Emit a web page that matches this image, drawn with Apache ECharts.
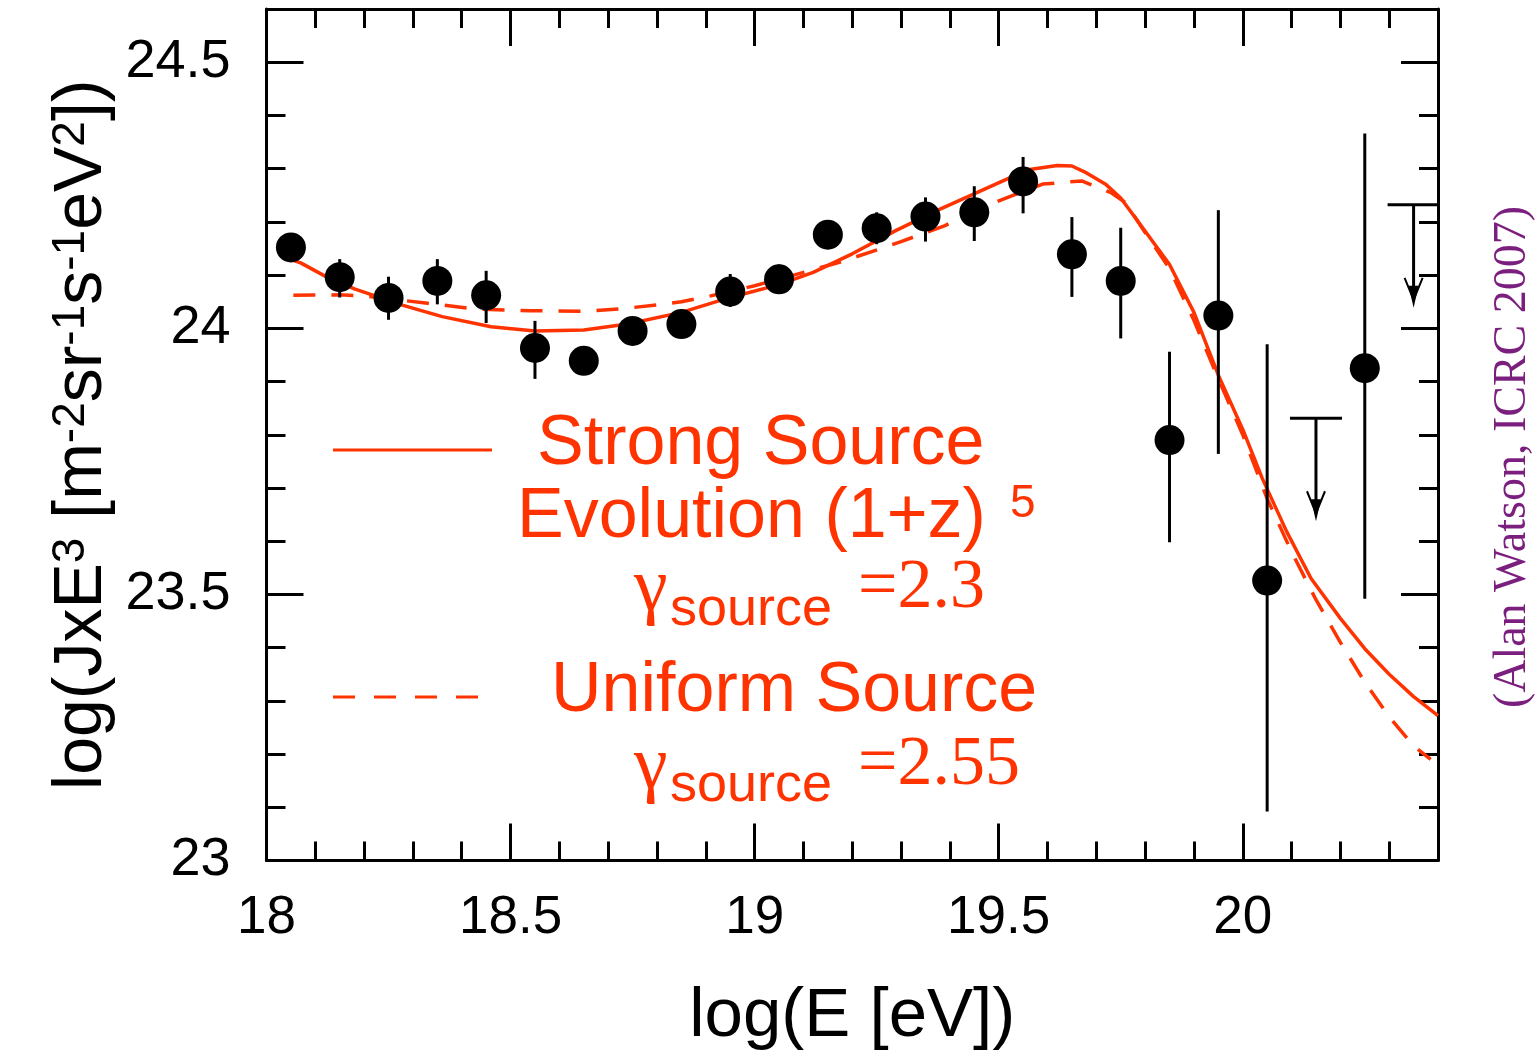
<!DOCTYPE html>
<html><head><meta charset="utf-8">
<script src="https://cdn.jsdelivr.net/npm/echarts@6/dist/echarts.min.js"></script>
<style>html,body{margin:0;padding:0;background:#fff}#c{width:1537px;height:1060px}</style>
</head><body><div id="c"></div>
<script>
// ---- data ----
const xTickLabels = ['18', '18.5', '19', '19.5', '20'];
const yTickLabels = ['23', '23.5', '24', '24.5'];

const dataX  = [18.05, 18.15, 18.25, 18.35, 18.45, 18.55, 18.65, 18.75, 18.85, 18.95, 19.05, 19.15, 19.25, 19.35, 19.45, 19.55, 19.65, 19.75, 19.85, 19.95, 20.05, 20.25];
const dataY  = [24.152, 24.096, 24.057, 24.089, 24.062, 23.963, 23.939, 23.995, 24.008, 24.069, 24.092, 24.176, 24.188, 24.21, 24.218, 24.276, 24.139, 24.089, 23.79, 24.024, 23.526, 23.925];
const errHi  = [24.17, 24.13, 24.097, 24.13, 24.108, 24.014, 23.959, 24.015, 24.028, 24.102, 24.12, 24.196, 24.218, 24.246, 24.267, 24.322, 24.209, 24.189, 23.956, 24.222, 23.97, 24.366];
const errLo  = [24.135, 24.058, 24.016, 24.045, 24.01, 23.905, 23.919, 23.975, 23.988, 24.04, 24.065, 24.156, 24.158, 24.163, 24.164, 24.216, 24.059, 23.981, 23.598, 23.764, 23.092, 23.492];

const limitX = [20.15, 20.35];
const limitY = [23.831, 24.232];

const strongX = [18.035, 18.07, 18.12, 18.18, 18.28, 18.36, 18.46, 18.55, 18.65, 18.74, 18.85, 18.95, 19.05, 19.12, 19.2, 19.29, 19.38, 19.47, 19.56, 19.62, 19.65, 19.68, 19.72, 19.75, 19.79, 19.85, 19.9, 19.95, 20.0, 20.04, 20.09, 20.14, 20.2, 20.25, 20.3, 20.35, 20.4];
const strongY = [24.134, 24.123, 24.098, 24.074, 24.043, 24.022, 24.003, 23.995, 23.997, 24.008, 24.03, 24.058, 24.082, 24.105, 24.14, 24.184, 24.224, 24.261, 24.298, 24.306, 24.305, 24.292, 24.27, 24.245, 24.195, 24.12, 24.03, 23.912, 23.81, 23.718, 23.618, 23.53, 23.455, 23.398, 23.35, 23.308, 23.272];

const uniformX = [18.055, 18.15, 18.2, 18.33, 18.43, 18.54, 18.65, 18.73, 18.8, 18.85, 18.91, 19.0, 19.08, 19.17, 19.24, 19.3, 19.39, 19.49, 19.59, 19.67, 19.73, 19.76, 19.8, 19.85, 19.9, 19.95, 20.0, 20.05, 20.1, 20.15, 20.2, 20.25, 20.3, 20.35, 20.385];
const uniformY = [24.062, 24.063, 24.061, 24.047, 24.036, 24.033, 24.032, 24.037, 24.044, 24.05, 24.061, 24.08, 24.1, 24.123, 24.144, 24.163, 24.193, 24.236, 24.271, 24.277, 24.255, 24.236, 24.18, 24.112, 24.015, 23.905, 23.8, 23.68, 23.58, 23.49, 23.41, 23.335, 23.27, 23.215, 23.19];

// ---- styles ----
const RED = '#ff3300';
const SANS = '"Liberation Sans", Arial, Helvetica, sans-serif';
const SERIF = '"Liberation Serif", "Times New Roman", serif';

const pts = dataX.map((x, i) => [x, dataY[i]]);
const errs = dataX.map((x, i) => [x, errLo[i], errHi[i]]);
const lims = limitX.map((x, i) => [x, limitY[i]]);
const strong = strongX.map((x, i) => [x, strongY[i]]);
const uniform = uniformX.map((x, i) => [x, uniformY[i]]);

function fmt(list) {
  return function (v) {
    const s = String(Math.round(v * 100) / 100);
    return list.indexOf(s) >= 0 ? s : '';
  };
}

function axisCommon(extra) {
  return Object.assign({
    type: 'value',
    axisLine: { show: true, lineStyle: { color: '#000', width: 3 } },
    axisTick: { show: true, inside: true, length: 37, lineStyle: { color: '#000', width: 3 } },
    minorTick: { show: true, splitNumber: 5, length: 19, lineStyle: { color: '#000', width: 3 } },
    splitLine: { show: false },
    minorSplitLine: { show: false }
  }, extra);
}

const chart = echarts.init(document.getElementById('c'), null, { renderer: 'canvas' });

const option = {
  backgroundColor: '#fff',
  animation: false,
  grid: { left: 266.5, right: 99, top: 9, bottom: 199.5, containLabel: false },
  xAxis: [
    axisCommon({
      position: 'bottom', min: 18, max: 20.4, interval: 0.5,
      axisLabel: { show: true, margin: 31, color: '#000', fontFamily: SANS, fontSize: 53, lineHeight: 53, formatter: fmt(xTickLabels), showMaxLabel: false },
      name: 'log(E [eV])', nameLocation: 'middle', nameGap: 122, nameMoveOverlap: false,
      nameTextStyle: { color: '#000', fontFamily: SANS, fontSize: 69, lineHeight: 69 }
    }),
    axisCommon({
      position: 'top', min: 18, max: 20.4, interval: 0.5,
      axisLabel: { show: false }
    })
  ],
  yAxis: [
    axisCommon({
      position: 'left', min: 23, max: 24.6, interval: 0.5,
      axisLabel: { show: true, margin: 36, color: '#000', fontFamily: SANS, fontSize: 54, formatter: fmt(yTickLabels), showMaxLabel: false },
      name: '{m|log(JxE}{s|3}{m| [m}{s|-2}{m|sr}{s|-1}{m|s}{s|-1}{m|eV}{s|2}{m|])}',
      nameLocation: 'middle', nameRotate: 90, nameGap: 150, nameMoveOverlap: false,
      nameTextStyle: {
        color: '#000', fontFamily: SANS,
        rich: {
          m: { fontFamily: SANS, fontSize: 68, lineHeight: 68, verticalAlign: 'bottom', color: '#000' },
          s: { fontFamily: SANS, fontSize: 46, lineHeight: 34, padding: [0, 0, 54, 0], verticalAlign: 'top', color: '#000' }
        }
      }
    }),
    axisCommon({
      position: 'right', min: 23, max: 24.6, interval: 0.5,
      axisLabel: { show: false }
    })
  ],
  series: [
    {
      name: 'Strong Source', type: 'line', data: strong, showSymbol: false,
      smooth: false,
      lineStyle: { color: RED, width: 3.5 }, z: 2
    },
    {
      name: 'Uniform Source', type: 'line', data: uniform, showSymbol: false,
      smooth: false,
      lineStyle: { color: RED, width: 3.5, type: [22, 16] }, z: 2
    },
    {
      name: 'errors', type: 'custom', data: errs, z: 3,
      renderItem: function (params, api) {
        const x = api.value(0);
        const p1 = api.coord([x, api.value(2)]);
        const p2 = api.coord([x, api.value(1)]);
        return { type: 'line', shape: { x1: p1[0], y1: p1[1], x2: p2[0], y2: p2[1] }, style: { stroke: '#000', lineWidth: 3 } };
      }
    },
    {
      name: 'upper limits', type: 'custom', data: lims, z: 3,
      renderItem: function (params, api) {
        const p = api.coord([api.value(0), api.value(1)]);
        const L = 103, hw = 26;
        return {
          type: 'group', children: [
            { type: 'line', shape: { x1: p[0] - hw, y1: p[1], x2: p[0] + hw, y2: p[1] }, style: { stroke: '#000', lineWidth: 3 } },
            { type: 'line', shape: { x1: p[0], y1: p[1], x2: p[0], y2: p[1] + L - 10 }, style: { stroke: '#000', lineWidth: 3 } },
            { type: 'polygon', shape: { points: [[p[0] - 5, p[1] + L - 22], [p[0] + 5, p[1] + L - 22], [p[0], p[1] + L]] }, style: { fill: '#000' } },
            { type: 'polyline', shape: { points: [[p[0] - 9, p[1] + L - 30], [p[0], p[1] + L - 8], [p[0] + 9, p[1] + L - 30]] }, style: { stroke: '#000', lineWidth: 2, fill: null } }
          ]
        };
      }
    },
    {
      name: 'data', type: 'scatter', data: pts, symbol: 'circle', symbolSize: 30,
      itemStyle: { color: '#000', opacity: 1 }, z: 4
    }
  ],
  graphic: [
    // legend: strong source
    { type: 'line', shape: { x1: 333, y1: 450, x2: 492, y2: 450 }, style: { stroke: RED, lineWidth: 3 } },
    { type: 'text', x: 537, y: 445, style: { text: 'Strong Source', fill: RED, font: '70px ' + SANS, textAlign: 'left', textVerticalAlign: 'middle' } },
    { type: 'text', x: 517, y: 518, style: { text: 'Evolution (1+z)', fill: RED, font: '70px ' + SANS, textAlign: 'left', textVerticalAlign: 'middle' } },
    { type: 'text', x: 1010, y: 504, style: { text: '5', fill: RED, font: '46px ' + SANS, textAlign: 'left', textVerticalAlign: 'middle' } },
    { type: 'text', x: 634, y: 590, style: { text: 'γ', fill: RED, font: '76px ' + SERIF, textAlign: 'left', textVerticalAlign: 'middle' } },
    { type: 'text', x: 670, y: 610, style: { text: 'source', fill: RED, font: '54px ' + SANS, textAlign: 'left', textVerticalAlign: 'middle' } },
    { type: 'text', x: 858, y: 589, style: { text: '=2.3', fill: RED, font: '70px ' + SERIF, textAlign: 'left', textVerticalAlign: 'middle' } },
    // legend: uniform source
    { type: 'line', shape: { x1: 333, y1: 697, x2: 483, y2: 697 }, style: { stroke: RED, lineWidth: 3, lineDash: [22, 19] } },
    { type: 'text', x: 551, y: 692, style: { text: 'Uniform Source', fill: RED, font: '70px ' + SANS, textAlign: 'left', textVerticalAlign: 'middle' } },
    { type: 'text', x: 634, y: 768, style: { text: 'γ', fill: RED, font: '76px ' + SERIF, textAlign: 'left', textVerticalAlign: 'middle' } },
    { type: 'text', x: 670, y: 786, style: { text: 'source', fill: RED, font: '54px ' + SANS, textAlign: 'left', textVerticalAlign: 'middle' } },
    { type: 'text', x: 858, y: 766, style: { text: '=2.55', fill: RED, font: '70px ' + SERIF, textAlign: 'left', textVerticalAlign: 'middle' } },
    // attribution
    { type: 'text', x: 1513, y: 457, rotation: Math.PI / 2, style: { text: '(Alan Watson, ICRC 2007)', fill: '#7b1f7f', font: '46px ' + SERIF, textAlign: 'center', textVerticalAlign: 'middle' } }
  ]
};
chart.setOption(option);
</script>
</body></html>
